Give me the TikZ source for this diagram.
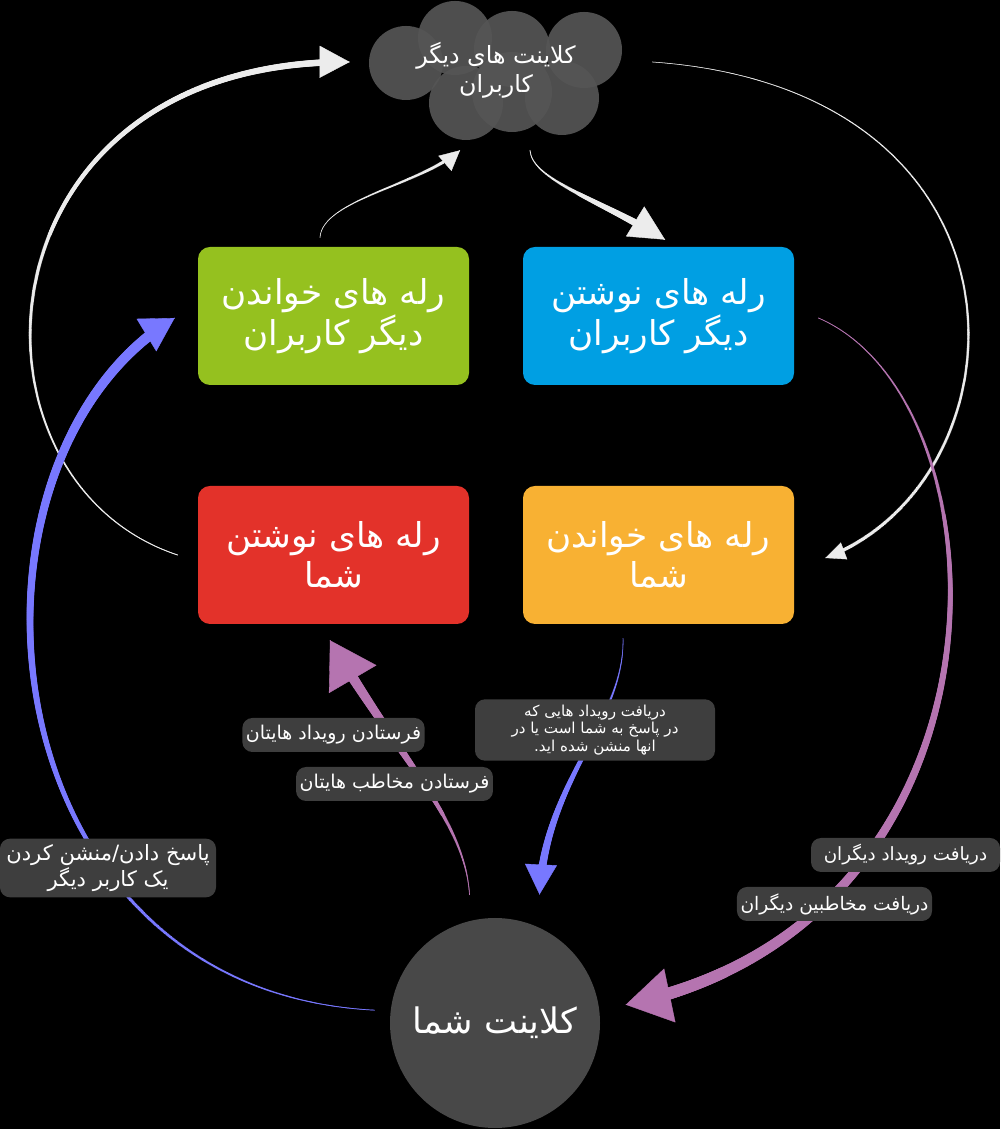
\documentclass[tikz,border=0pt]{standalone}
\usepackage{fontspec}
\usepackage{tikz}
\usetikzlibrary{arrows.meta,decorations.markings}
\newfontfamily\fafont[Script=Arabic]{DejaVu Sans}
\TeXXeTstate=1
\definecolor{readother}{RGB}{149,193,31}
\definecolor{writeother}{RGB}{0,159,227}
\definecolor{writeyou}{RGB}{227,50,42}
\definecolor{readyou}{RGB}{248,177,51}
\definecolor{flowpurple}{RGB}{181,116,176}
\definecolor{flowblue}{RGB}{120,120,255}
\definecolor{flowwhite}{RGB}{236,236,236}
\definecolor{lblgray}{RGB}{62,62,62}
\definecolor{cloudgray}{RGB}{85,85,85}
\definecolor{clientgray}{RGB}{72,72,72}
\tikzstyle{relay} = [rectangle, rounded corners=0.24cm, minimum width=5.42cm, minimum height=2.76cm, text=white, align=center, font=\fafont\fontsize{19.5}{23}\selectfont]
\tikzstyle{lbl} = [rectangle, rounded corners=0.2cm, fill=lblgray, text=white, align=center, inner xsep=2pt, minimum height=0.68cm, font=\fafont\fontsize{10.8}{13}\selectfont]
% colour, start width (pt), end width (pt), head length (cm), head width (cm)
\tikzset{
  flow/.style n args={5}{
    draw=#1, line width=0.2pt, dash pattern=on 0pt off 10000pt,
    -{Triangle[length=#4cm, width=#5cm]},
    postaction={draw=#1, solid, arrows=-, line width=#2pt},
    postaction={decorate, decoration={markings,
      mark=between positions 0 and -#4cm step 0.6pt with {
        \pgfmathsetmacro\flowr{(#2+(#3-#2)*\pgfkeysvalueof{/pgf/decoration/mark info/distance from start}/\pgfdecoratedpathlength)/2}
        \fill[#1] (0,0) circle (\flowr pt);}}}
  }
}

\begin{document}
\begin{tikzpicture}
\fill[black] (0,0) rectangle (20,22.58);
\useasboundingbox (0,0) rectangle (20,22.58);

% other users' clients
\foreach \cx/\cy/\cr in {8.12/21.32/0.74, 9.10/21.82/0.74, 10.24/21.60/0.76, 11.68/21.58/0.76,
                         9.32/20.52/0.74, 11.24/20.62/0.74, 10.24/20.74/0.8}
  \fill[cloudgray, fill opacity=0.92] (\cx,\cy) circle (\cr);
\node[minimum width=5.08cm, minimum height=2.8cm, text=white, align=center, font=\fafont\fontsize{13.5}{16.5}\selectfont] (others) at (9.92,21.18) {\beginR کلاینت های دیگر\endR\\\beginR کاربران\endR};

% relays
\node[relay, fill=readother] (readothers) at (6.67,16.26) {\beginR رله های خواندن\endR\\\beginR دیگر کاربران\endR};
\node[relay, fill=writeother] (writeothers) at (13.17,16.26) {\beginR رله های نوشتن\endR\\\beginR دیگر کاربران\endR};
\node[relay, fill=writeyou] (writeyours) at (6.67,11.48) {\beginR رله های نوشتن\endR\\\beginR شما\endR};
\node[relay, fill=readyou] (readyours) at (13.17,11.48) {\beginR رله های خواندن\endR\\\beginR شما\endR};

% your client
\node[circle, fill=clientgray, minimum size=4.2cm, text=white, font=\fafont\fontsize{20}{24}\selectfont] (you) at (9.9,2.12) {\beginR کلاینت شما\endR};

% flows
\path[flow={flowwhite}{0.5}{4}{0.6}{0.64}] ([xshift=-0.4cm]writeyours.west) .. controls (-1.0,12.98) and (-0.6,21.38) .. ([shift={(-0.38,0.16)}]others.west);
\path[flow={flowwhite}{0.3}{2.3}{0.4}{0.36}] ([shift={(0.58,0.16)}]others.east) .. controls (21.0,20.78) and (20.6,12.98) .. ([shift={(0.62,-0.06)}]readyours.east);
\path[flow={flowwhite}{0.3}{2.3}{0.4}{0.4}] ([shift={(-0.27,0.18)}]readothers.north) .. controls (6.44,18.58) and (8.4,18.88) .. ([shift={(-0.72,-0.2)}]others.south);
\path[flow={flowwhite}{0.4}{5}{0.7}{0.7}] ([shift={(0.68,-0.2)}]others.south) .. controls (10.64,18.98) and (12.0,18.58) .. ([shift={(0.13,0.14)}]writeothers.north);
\path[flow={flowpurple}{0.4}{7.4}{0.9}{1.1}] ([shift={(0.48,-0.04)}]writeothers.east) .. controls (20.2,14.58) and (20.6,4.18) .. ([xshift=0.54cm]you.10);
\path[flow={flowblue}{0.4}{6.2}{0.66}{0.76}] ([xshift=-0.32cm]you.173) .. controls (-0.4,2.78) and (-1.2,13.38) .. ([shift={(-0.46,-0.04)}]readothers.west);
\path[flow={flowpurple}{0.4}{6.8}{0.9}{1.1}] ([yshift=0.52cm]you.104) .. controls (9.3,6.18) and (8.0,7.38) .. ([shift={(-0.07,-0.32)}]writeyours.south);
\path[flow={flowblue}{0.3}{5}{0.6}{0.64}] ([shift={(-0.71,-0.28)}]readyours.south) .. controls (12.5,8.18) and (10.9,6.98) .. ([yshift=0.66cm]you.65);

% flow labels
\node[lbl] (sendevents) at (6.67,7.88) {\beginR فرستادن رویداد هایتان\endR};
\node[lbl] (sendcontacts) at (7.89,6.9) {\beginR فرستادن مخاطب هایتان\endR};
\node[lbl, minimum width=4.8cm, minimum height=1.06cm, font=\fafont\fontsize{8.6}{9.8}\selectfont] (getreplies) at (11.9,7.98) {\beginR دریافت رویداد هایی که\endR\\\beginR در پاسخ به شما است یا در\endR\\\beginR انها منشن شده اید.\endR};
\node[lbl, minimum width=4.32cm, minimum height=0.98cm, font=\fafont\fontsize{12}{13.5}\selectfont] (replyother) at (2.16,5.22) {\beginR پاسخ دادن/منشن کردن\endR\\\beginR یک کاربر دیگر\endR};
\node[lbl, minimum width=3.78cm, font=\fafont\fontsize{10.4}{13}\selectfont] (getevents) at (18.11,5.48) {\beginR دریافت رویداد دیگران\endR};
\node[lbl, minimum width=3.78cm, font=\fafont\fontsize{10.6}{13}\selectfont] (getcontacts) at (16.69,4.5) {\beginR دریافت مخاطبین دیگران\endR};
\end{tikzpicture}
\end{document}
